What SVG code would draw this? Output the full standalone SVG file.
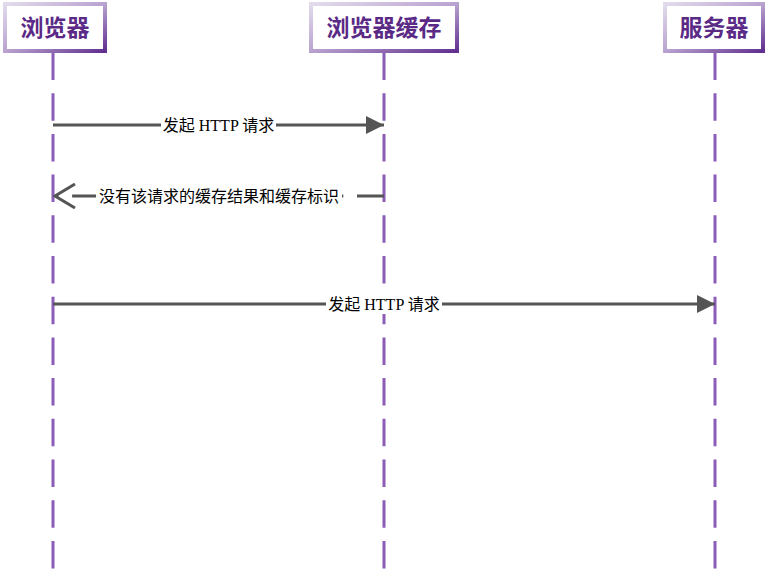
<svg xmlns="http://www.w3.org/2000/svg" width="769" height="579" viewBox="0 0 769 579">
<style>
.box{fill:#ffffff;stroke:url(#bg);stroke-width:4}
.title{font-family:"Liberation Serif","Noto Sans CJK SC",serif;font-size:23px;font-weight:bold;fill:#5a2a86;text-anchor:middle}
.life{stroke:#8c5cb8;stroke-width:3;stroke-dasharray:27.5 13.2;fill:none}
.msg{stroke:#555555;stroke-width:3;fill:none}
.dash{stroke-dasharray:27 13.7}
.lbl{font-family:"Liberation Serif","Noto Sans CJK SC",serif;font-size:16px;fill:#000000;text-anchor:middle}
.bgr{fill:#ffffff}
</style>
<defs>
<linearGradient id="bg" x1="0" y1="0" x2="1" y2="1">
<stop offset="0" stop-color="#e2dbec"/>
<stop offset="0.5" stop-color="#b9a3d0"/>
<stop offset="1" stop-color="#62308f"/>
</linearGradient>
<marker id="fill" markerUnits="userSpaceOnUse" markerWidth="20" markerHeight="20" refX="18" refY="9" orient="auto">
<path d="M0,0 L18,9 L0,18 Z" fill="#555555"/>
</marker>
</defs>
<g id="lifelines">
<line class="life" x1="53" y1="52.5" x2="53" y2="569"/>
<line class="life" x1="384" y1="52.5" x2="384" y2="569"/>
<line class="life" x1="715" y1="52.5" x2="715" y2="569"/>
</g>
<g id="node-browser">
<rect class="box" x="5" y="4" width="100" height="47"/>
<text class="title" x="55" y="36">浏览器</text>
</g>
<g id="node-cache">
<rect class="box" x="311" y="4" width="146" height="47"/>
<text class="title" x="384" y="36">浏览器缓存</text>
</g>
<g id="node-server">
<rect class="box" x="665" y="4" width="98" height="47"/>
<text class="title" x="714" y="36">服务器</text>
</g>
<g id="connectors">
<line class="msg" x1="53" y1="125" x2="384" y2="125" marker-end="url(#fill)"/>
<rect class="bgr" x="161" y="115" width="115" height="20"/>
<text class="lbl" x="218.5" y="131">发起 HTTP 请求</text>
<line class="msg dash" x1="384" y1="196" x2="55" y2="196"/>
<path class="msg" d="M75,184 L55,196 L75,208"/>
<rect class="bgr" x="96" y="186" width="246" height="20"/>
<text class="lbl" x="219" y="202">没有该请求的缓存结果和缓存标识</text>
<line class="msg" x1="53" y1="304" x2="715" y2="304" marker-end="url(#fill)"/>
<rect class="bgr" x="326" y="294" width="116" height="20"/>
<text class="lbl" x="384" y="310">发起 HTTP 请求</text>
</g>
</svg>
